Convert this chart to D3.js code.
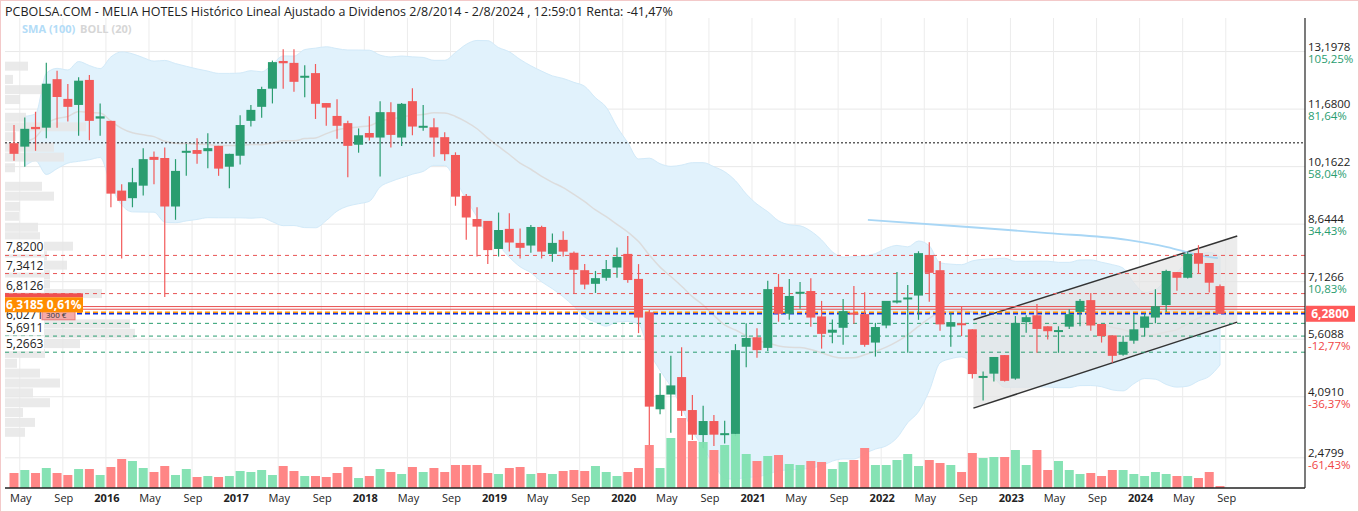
<!DOCTYPE html>
<html><head><meta charset="utf-8">
<script src="https://cdn.jsdelivr.net/npm/d3@7"></script>
<style>body{margin:0;background:#fff}svg{font-family:"Open Sans",sans-serif}</style>
</head><body><svg id="c" width="1359" height="512"></svg>
<script>
const startMonth = "2015-04";
const opens = [10.78,10.69,11.21,11.19,12.47,11.95,11.79,12.45,11.43,11.37,9.53,9.33,9.66,10.42,10.39,9.11,10.53,10.60,10.57,10.71,10.16,10.45,11.37,11.74,12.22,12.95,12.90,12.53,12.63,11.84,11.50,11.31,10.74,11.05,10.93,11.60,10.93,11.89,11.22,11.20,10.94,10.47,9.39,8.78,8.73,7.99,8.52,8.15,8.08,8.57,7.86,8.23,7.89,7.43,7.07,7.23,7.50,7.86,7.20,6.32,3.76,4.15,4.61,3.74,3.08,3.45,3.09,3.11,5.41,5.66,5.38,6.99,6.28,6.81,6.88,6.21,5.78,5.91,6.31,6.27,5.52,5.97,6.60,6.69,6.76,7.83,7.43,5.94,6.03,5.87,4.60,4.70,5.19,4.57,6.06,6.24,5.95,5.82,5.94,6.33,6.64,6.01,5.71,5.20,5.57,5.91,6.18,6.51,7.38,7.23,7.88,7.62,7.01];
const highs = [11.26,11.46,11.61,12.90,12.69,12.34,12.52,12.58,11.83,11.37,9.70,10.13,10.65,10.56,10.67,10.36,10.76,10.91,11.04,10.71,10.50,11.52,11.79,12.27,12.96,13.26,13.26,12.84,12.87,11.84,11.94,11.37,11.17,11.49,11.89,11.86,11.84,12.23,11.79,11.44,11.07,10.54,9.44,9.09,8.73,8.95,8.93,8.53,8.62,8.60,8.40,8.46,7.92,7.59,7.41,7.70,8.03,8.33,7.59,6.38,4.71,5.17,5.40,4.14,3.85,3.61,3.46,5.48,6.03,5.90,7.15,7.33,7.20,7.12,7.22,6.62,6.13,6.67,7.01,6.85,6.04,6.62,7.38,7.04,7.93,8.17,7.67,6.31,6.48,5.87,4.76,5.14,5.19,6.22,6.24,6.54,5.95,5.95,6.40,6.67,6.83,6.01,5.71,5.70,6.27,6.29,6.93,7.44,7.38,7.91,8.09,7.62,7.05];
const lows = [10.32,10.16,10.58,10.91,11.19,11.35,10.98,10.86,10.98,9.09,7.74,9.09,9.40,9.70,6.72,8.76,9.92,10.24,10.12,9.92,9.59,10.22,11.22,11.45,11.83,12.22,12.14,11.99,11.42,11.24,10.90,9.88,10.53,10.85,9.90,10.67,10.71,10.99,11.11,10.42,10.32,9.13,8.23,7.79,7.59,7.79,7.92,7.74,7.89,7.74,7.65,7.79,6.82,6.93,6.83,7.15,7.23,7.10,5.77,2.69,3.63,3.14,3.58,2.95,2.73,2.79,2.86,3.05,4.87,5.12,5.30,6.07,6.12,6.41,5.94,5.36,5.50,5.46,6.02,5.41,5.15,5.90,6.55,5.25,6.12,6.60,5.83,5.41,5.69,4.57,3.99,4.49,4.49,4.54,5.78,5.25,5.60,5.25,5.88,5.95,5.83,5.52,4.99,5.17,5.49,5.68,6.03,6.33,6.89,7.21,7.34,6.84,6.28];
const closes = [10.50,11.16,11.15,12.35,12.00,11.74,12.43,11.37,11.49,9.45,9.26,9.75,10.36,10.34,9.11,10.05,10.58,10.50,10.65,10.11,10.50,11.26,11.66,12.21,12.92,12.89,12.40,12.56,11.82,11.72,11.24,10.71,10.99,10.93,11.60,11.00,11.82,11.22,11.24,10.93,10.49,9.37,8.82,8.58,7.96,8.49,8.16,8.02,8.57,7.92,8.15,7.92,7.44,7.05,7.22,7.46,7.78,7.17,6.18,3.83,4.14,4.39,3.72,3.09,3.45,3.09,3.13,5.32,5.64,5.32,6.93,6.28,6.75,6.86,6.18,5.75,5.86,6.35,6.26,5.46,5.93,6.62,6.63,6.71,7.88,7.36,6.00,6.06,5.99,4.69,4.64,5.14,4.51,6.04,6.19,5.88,5.82,5.85,6.27,6.62,5.97,5.69,5.17,5.54,5.87,6.21,6.48,7.41,7.23,7.86,7.60,7.10,6.28];
const volumes = [15,18,15,20,15,13,19,19,13,21,29,27,20,16,22,13,19,11,12,11,12,17,16,18,13,22,17,12,12,11,15,21,10,12,19,16,14,21,16,20,16,23,23,23,15,14,20,21,14,15,14,17,18,17,22,16,12,16,20,43,20,50,
 70,47,46,38,43,54,34,27,32,33,24,23,27,26,19,26,28,40,23,23,28,34,22,28,25,23,16,35,30,31,31,38,23,38,18,27,18,14,15,12,18,18,14,12,16,14,12,12,10,16,2];
const rightTicks = [13.1978,11.68,10.1622,8.6444,7.1266,5.6088,4.091,2.4799];
const rightPcts = ["105,25%","81,64%","58,04%","34,43%","10,83%","-12,77%","-36,37%","-61,43%"];
const redLevels = [7.82,7.3412,6.8126];
const greenLevels = [6.0271,5.6911,5.2663];
const redLabels = ["7,8200","7,3412","6,8126"];
const greenLabels = ["6,0271","5,6911","5,2663"];
const solidRed = [6.47,6.40];
const orangeLevel = 6.3185, blueLevel = 6.28, dottedLevel = 10.79;
const sma100 = [[79.3,8.76],[88.6,8.57],[96,8.41],[103.4,8.23],[107.1,8.04],[110,7.83],[111.8,7.75]];
const channelUpper = [[89.1,6.12],[113.6,8.33]];
const channelLower = [[89.1,3.79],[113.6,6.06]];
const profilePrice = [12.80,12.45,12.18,11.92,11.45,11.20,10.94,10.66,10.40,10.12,9.63,9.37,9.10,8.84,8.55,8.30,8.05,7.80,7.55,7.30,7.05,6.80,6.50,6.25,6.00,5.75,5.48,5.22,4.96,4.70,4.44,4.18,3.92,3.66,3.40,3.14];
const profileVol = [23,8,42,15,21,81,11,49,59,10,37,49,15,14,33,35,68,42,62,45,45,97,78,45,125,130,75,40,12,35,55,28,45,18,30,20];

const months = d3.timeMonth.range(d3.timeParse("%Y-%m")(startMonth), d3.timeMonth.offset(d3.timeParse("%Y-%m")(startMonth), closes.length));
const svg = d3.select("#c");
const L=5, R=1305, T=18, B=488;
const x = d3.scaleLinear().domain([0,112]).range([14,1220]);
const y = d3.scaleLinear().domain([1.683,14.084]).range([B,T]);
const vy = d3.scaleLinear().domain([0,100]).range([B,B-100]);
const px = d3.scaleLinear().domain([0,100]).range([L,L+100]);
const GREEN="#2a9d70", RED="#f25a5a";

svg.append("rect").attr("x",0.5).attr("y",0.5).attr("width",1358).attr("height",511).attr("fill","none").attr("stroke","#f3c9c9");
svg.append("defs").append("clipPath").attr("id","clip").append("rect").attr("x",L).attr("y",T).attr("width",R-L).attr("height",B-T);
const g = svg.append("g").attr("clip-path","url(#clip)");

// grid
rightTicks.forEach(v=>g.append("line").attr("x1",L).attr("x2",R).attr("y1",y(v)).attr("y2",y(v)).attr("stroke","#e8e8e8"));
const tickIdx = d3.range(months.length+1).filter(i=>{const m=d3.timeMonth.offset(months[0],i).getMonth(); return m===0||m===4||m===8;});
tickIdx.forEach(i=>g.append("line").attr("x1",x(i)-5).attr("x2",x(i)-5).attr("y1",T).attr("y2",B).attr("stroke","#ececec"));

// Bollinger (20) from closes
const boll = closes.map((c,i)=>{const w=closes.slice(Math.max(0,i-19),i+1);const m=d3.mean(w);const s=w.length>1?d3.deviation(w)*Math.sqrt((w.length-1)/w.length):0;return {i,m,u:m+2*s,l:m-2*s};}).filter(d=>d.i>=1);
g.append("path").datum(boll).attr("d",d3.area().x(d=>x(d.i)).y0(d=>y(d.l)).y1(d=>y(d.u)).curve(d3.curveMonotoneX)).attr("fill","#e1f2fc").attr("stroke","#d2eaf9");
g.append("path").datum(boll).attr("d",d3.line().x(d=>x(d.i)).y(d=>y(d.m)).curve(d3.curveMonotoneX)).attr("fill","none").attr("stroke","#dcdcdc").attr("stroke-width",1.5);

// volume profile
profilePrice.forEach((p,i)=>g.append("rect").attr("x",L).attr("y",y(p)-5).attr("width",px(profileVol[i])-L).attr("height",9).attr("fill","#e6e6e6").attr("opacity",0.85));

// channel
const chArea = channelUpper.map((d,i)=>({i:d[0],u:d[1],l:channelLower[i][1]}));
g.append("path").datum(chArea).attr("d",d3.area().x(d=>x(d.i)).y0(d=>y(d.l)).y1(d=>y(d.u))).attr("fill","#e4e4e4").attr("opacity",0.7);
[channelUpper,channelLower].forEach(c=>g.append("path").datum(c).attr("d",d3.line().x(d=>x(d[0])).y(d=>y(d[1]))).attr("stroke","#333").attr("stroke-width",1.5).attr("fill","none"));

// SMA100
g.append("path").datum(sma100).attr("d",d3.line().x(d=>x(d[0])).y(d=>y(d[1])).curve(d3.curveMonotoneX)).attr("fill","none").attr("stroke","#a8d6f5").attr("stroke-width",1.8);

// price levels
const hl=(v,col,dash,w)=>g.append("line").attr("x1",L).attr("x2",R).attr("y1",y(v)).attr("y2",y(v)).attr("stroke",col).attr("stroke-dasharray",dash).attr("stroke-width",w||1);
redLevels.forEach(v=>hl(v,"#e85555","4,4"));
greenLevels.forEach(v=>hl(v,"#2a9d70","4,4"));
hl(dottedLevel,"#111","2,2");
solidRed.forEach(v=>hl(v,"#e85050",null));
hl(orangeLevel,"#ff9000","5,3",1.5);
hl(blueLevel,"#1030e0","5,3",1.5);

// candles
const idx=d3.range(closes.length);
g.selectAll(".wick").data(idx).join("line").attr("x1",i=>x(i)).attr("x2",i=>x(i)).attr("y1",i=>y(highs[i])).attr("y2",i=>y(lows[i])).attr("stroke",i=>closes[i]>=opens[i]?GREEN:RED).attr("stroke-width",1.2);
g.selectAll(".body").data(idx).join("rect").attr("x",i=>x(i)-4.5).attr("width",9).attr("y",i=>y(Math.max(opens[i],closes[i]))).attr("height",i=>Math.max(2,Math.abs(y(opens[i])-y(closes[i])))).attr("fill",i=>closes[i]>=opens[i]?GREEN:RED);

// volumes
g.selectAll(".vol").data(idx).join("rect").attr("x",i=>x(i)-4.5).attr("width",9).attr("y",i=>vy(volumes[i])).attr("height",i=>B-vy(volumes[i])).attr("fill",i=>closes[i]>=opens[i]?"#7fe0b0":"#ff7f7f").attr("opacity",0.95);

// axes lines
svg.append("line").attr("x1",L).attr("x2",R).attr("y1",B).attr("y2",B).attr("stroke","#222").attr("stroke-width",1.5);
svg.append("line").attr("x1",R).attr("x2",R).attr("y1",T).attr("y2",B).attr("stroke","#222").attr("stroke-width",1.2);

// x labels
tickIdx.forEach(i=>{const d=d3.timeMonth.offset(months[0],i);const m=d.getMonth();
 svg.append("text").attr("x",x(i)-4).attr("y",502).attr("text-anchor","middle").attr("font-size",11).attr("font-weight",m===0?"bold":"normal").attr("fill","#222").text(m===0?d.getFullYear():(m===4?"May":"Sep"));});

// right labels
rightTicks.forEach((v,i)=>{
 svg.append("text").attr("x",1308).attr("y",y(v)-1).attr("font-size",11.5).attr("fill","#222").text(d3.format(".4f")(v).replace(".",","));
 svg.append("text").attr("x",1308).attr("y",y(v)+11).attr("font-size",11.5).attr("fill",rightPcts[i][0]==="-"?"#f04545":"#2a9d70").text(rightPcts[i]);});
svg.append("rect").attr("x",1306).attr("y",y(6.28)-8).attr("width",49).attr("height",16).attr("fill","#ff5a5a");
svg.append("text").attr("x",1330).attr("y",y(6.28)+4.5).attr("text-anchor","middle").attr("font-size",12).attr("font-weight","bold").attr("fill","#fff").text("6,2800");

// left labels
const lab=(v,t)=>{svg.append("rect").attr("x",4).attr("y",y(v)-16).attr("width",40).attr("height",15).attr("fill","#fff");
 svg.append("text").attr("x",6).attr("y",y(v)-4).attr("font-size",12).attr("fill","#222").text(t);};
redLevels.forEach((v,i)=>lab(v,redLabels[i]));
greenLevels.forEach((v,i)=>lab(v,greenLabels[i]));
svg.append("rect").attr("x",42).attr("y",y(6.28)-3).attr("width",33).attr("height",9).attr("fill","#f4aaaa").attr("stroke","#e87878");
svg.append("text").attr("x",46).attr("y",y(6.28)+4).attr("font-size",8).attr("fill","#333").text("300 €");
svg.append("rect").attr("x",5).attr("y",y(6.3185)-19).attr("width",78).attr("height",4).attr("fill","#f05050");
svg.append("rect").attr("x",5).attr("y",y(6.3185)-15).attr("width",78).attr("height",15).attr("fill","#ff8c00");
svg.append("text").attr("x",6).attr("y",y(6.3185)-3).attr("font-size",12).attr("font-weight","bold").attr("fill","#fff").text("6,3185  0,61%");

// title & legend
svg.append("text").attr("x",5).attr("y",16).attr("font-size",12.5).attr("fill","#222").text("PCBOLSA.COM - MELIA HOTELS Histórico Lineal Ajustado a Dividenos 2/8/2014 - 2/8/2024 , 12:59:01 Renta: -41,47%");
svg.append("text").attr("x",22).attr("y",33).attr("font-size",11).attr("font-weight","bold").attr("fill","#b3dcf7").text("SMA (100)");
svg.append("text").attr("x",80).attr("y",33).attr("font-size",11).attr("font-weight","bold").attr("fill","#d6d6d6").text("BOLL (20)");
</script></body></html>
